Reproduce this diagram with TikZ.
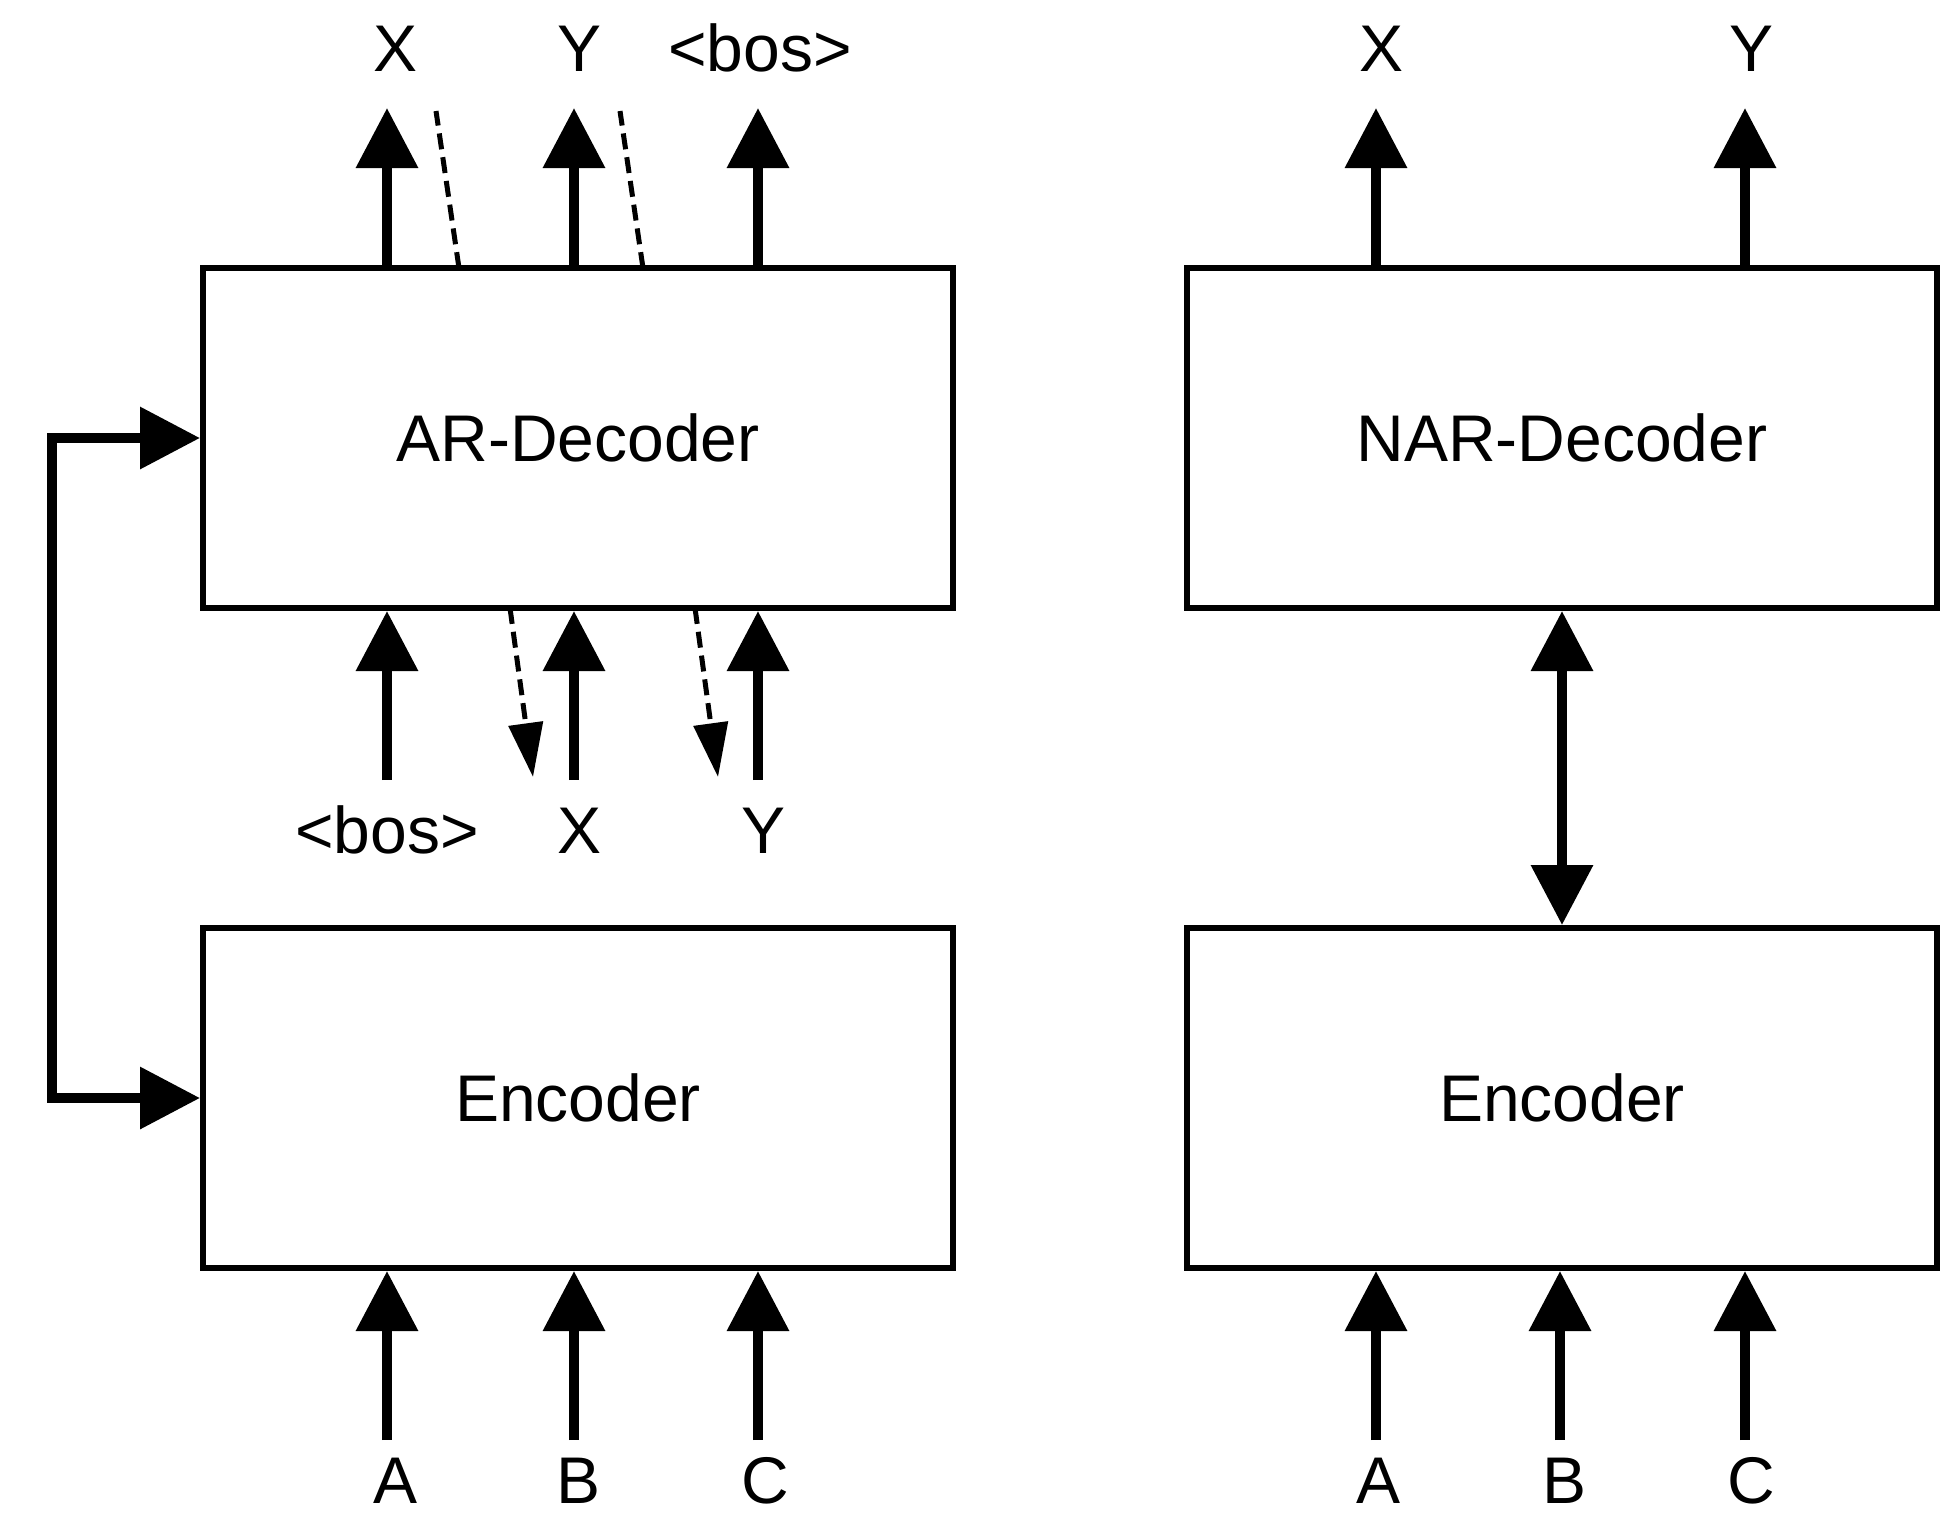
\documentclass[tikz,border=0pt]{standalone}
\usepackage{fontspec}
\setmainfont{Liberation Sans}
\usetikzlibrary{arrows.meta}
\begin{document}
\begin{tikzpicture}[x=0.5pt,y=-0.5pt,
  box/.style={draw=black, line width=3pt, minimum width=375pt, minimum height=170pt, inner sep=0pt, font=\fontsize{33}{40}\selectfont},
  lbl/.style={font=\fontsize{33}{40}\selectfont, inner sep=0pt, anchor=base},
  arr/.style={line width=5pt, -{Triangle[length=30pt,width=30pt]}},
  darr/.style={line width=2.5pt, dash pattern=on 8pt off 4pt, -{Triangle[length=27pt,width=17pt]}},
  dline/.style={line width=2.5pt, dash pattern=on 8pt off 4pt},
  dbl/.style={line width=5pt, {Triangle[length=30pt,width=30pt]}-{Triangle[length=30pt,width=30pt]}}
]
\useasboundingbox (0,0) rectangle (1951,1517);

% boxes
\node[box] (ard) at (578,438) {AR-Decoder};
\node[box] (encl) at (578,1098) {Encoder};
\node[box] (nard) at (1562,438) {NAR-Decoder};
\node[box] (encr) at (1562,1098) {Encoder};

% ---- left: top outputs
\node[lbl] (ox) at (396,71) {X};
\node[lbl] (oy) at (580,71) {Y};
\node[lbl] (ob) at (760,71) {<bos>};
\coordinate (t1) at (387,108);
\coordinate (t2) at (574,108);
\coordinate (t3) at (758,108);
\draw[arr] (ard.north -| t1) -- (t1);
\draw[arr] (ard.north -| t2) -- (t2);
\draw[arr] (ard.north -| t3) -- (t3);
\coordinate (d1s) at (459,268);
\coordinate (d1e) at (436,111);
\coordinate (d2s) at (643,268);
\coordinate (d2e) at (620,111);
\draw[dline] (d1s) -- (d1e);
\draw[dline] (d2s) -- (d2e);

% ---- left: decoder inputs
\node[lbl] (ib) at (387,853) {<bos>};
\node[lbl] (ix) at (580,853) {X};
\node[lbl] (iy) at (764,853) {Y};
\coordinate (u1) at (387,780);
\coordinate (u2) at (574,780);
\coordinate (u3) at (758,780);
\draw[arr] (u1) -- (ard.south -| u1);
\draw[arr] (u2) -- (ard.south -| u2);
\draw[arr] (u3) -- (ard.south -| u3);
\coordinate (e1s) at (510,608);
\coordinate (e1e) at (533,777);
\coordinate (e2s) at (695,608);
\coordinate (e2e) at (718,777);
\draw[darr] (e1s) -- (e1e);
\draw[darr] (e2s) -- (e2e);

% ---- left: loop
\coordinate (lp) at (52,767);
\draw[arr] (lp) |- (ard.west);
\draw[arr] (lp) |- (encl.west);

% ---- left: encoder inputs
\node[lbl] (la) at (396,1503) {A};
\node[lbl] (lb) at (579,1503) {B};
\node[lbl] (lc) at (765,1503) {C};
\coordinate (b1) at (387,1440);
\coordinate (b2) at (574,1440);
\coordinate (b3) at (758,1440);
\draw[arr] (b1) -- (encl.south -| b1);
\draw[arr] (b2) -- (encl.south -| b2);
\draw[arr] (b3) -- (encl.south -| b3);

% ---- right: outputs
\node[lbl] (rx) at (1381,71) {X};
\node[lbl] (ry) at (1751,71) {Y};
\coordinate (rt1) at (1376,108);
\coordinate (rt2) at (1745,108);
\draw[arr] (nard.north -| rt1) -- (rt1);
\draw[arr] (nard.north -| rt2) -- (rt2);

% ---- right: decoder-encoder link
\draw[dbl] (nard.south) -- (encr.north);

% ---- right: encoder inputs
\node[lbl] (ra) at (1379,1503) {A};
\node[lbl] (rb) at (1564,1503) {B};
\node[lbl] (rc) at (1751,1503) {C};
\coordinate (rb1) at (1376,1440);
\coordinate (rb2) at (1560,1440);
\coordinate (rb3) at (1745,1440);
\draw[arr] (rb1) -- (encr.south -| rb1);
\draw[arr] (rb2) -- (encr.south -| rb2);
\draw[arr] (rb3) -- (encr.south -| rb3);
\end{tikzpicture}
\end{document}
